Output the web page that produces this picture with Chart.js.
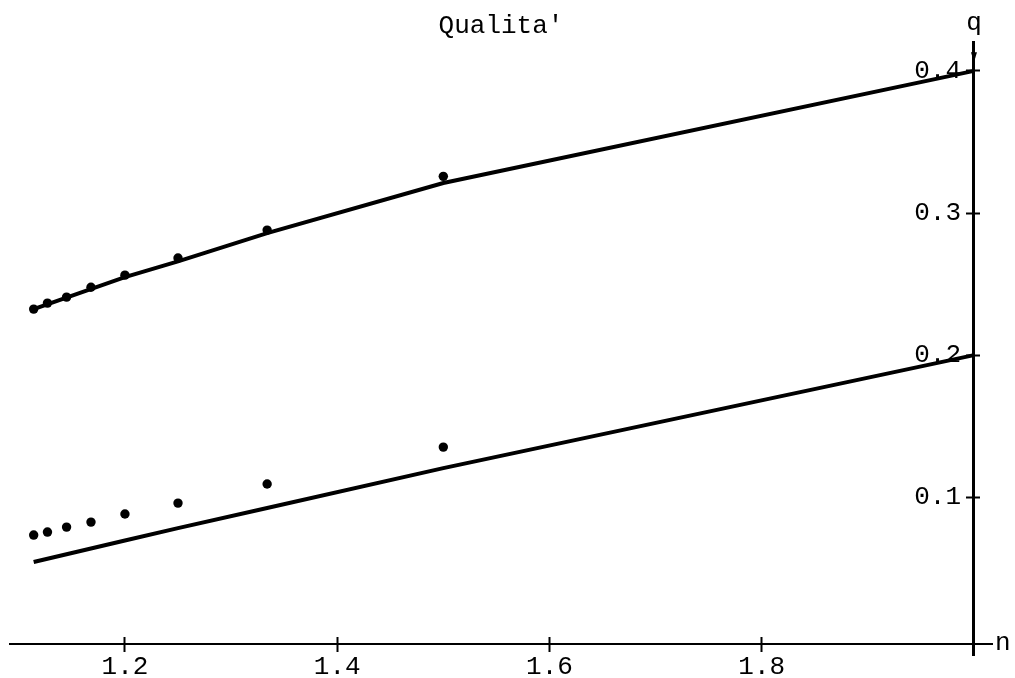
<!DOCTYPE html>
<html>
<head>
<meta charset="utf-8">
<script src="https://cdn.jsdelivr.net/npm/chart.js@4"></script>
<style>
  html, body { margin: 0; padding: 0; background: #fff; }
  #wrap { width: 1015px; height: 678px; }
</style>
</head>
<body>
<div id="wrap"><canvas id="qualChart"></canvas></div>
<script>
// values
var nPoints = [1.114, 1.127, 1.145, 1.168, 1.2, 1.25, 1.334, 1.5];
var qUpperPoints = [0.2324, 0.2366, 0.2408, 0.2478, 0.2563, 0.2683, 0.2880, 0.3258];
var qLowerPoints = [0.0734, 0.0755, 0.0790, 0.0825, 0.0882, 0.0959, 0.1093, 0.1353];

var nLine = [1.114, 1.2, 1.25, 1.334, 1.5, 2.0];
var qUpperLine = [0.2324, 0.2549, 0.2660, 0.2859, 0.3211, 0.4];
var qLowerLine = [0.0544, 0.0696, 0.0783, 0.0924, 0.1205, 0.2];

var xTicks = [1.2, 1.4, 1.6, 1.8];
var yTicks = [0.1, 0.2, 0.3, 0.4];

function pairs(xs, ys) {
    return xs.map(function(x, i) { return { x: x, y: ys[i] }; });
}

document.addEventListener('DOMContentLoaded', function() {
    var mono = 'Liberation Mono';
    var nMin = 1.0917, nMax = 2.017;
    var qMin = -0.011, qMax = 0.4202;
    var nAxisAt = -0.0035;   // the n axis sits just under q = 0 in the original

    function fixedTicks(list) {
        return function(scale) {
            scale.ticks = list.map(function(v) { return { value: v }; });
        };
    }

    var axisExtras = {
        id: 'axisExtras',
        afterDraw: function(chart) {
            var ctx = chart.ctx;
            var area = chart.chartArea;
            var ax = chart.scales.x.getPixelForValue(2.0);
            var ay = chart.scales.y.getPixelForValue(nAxisAt);
            ctx.save();
            ctx.fillStyle = '#000';
            ctx.font = '26px "' + mono + '"';
            ctx.textAlign = 'center';
            ctx.textBaseline = 'alphabetic';
            ctx.fillText('q', ax, area.top - 12);
            ctx.textAlign = 'left';
            ctx.fillText('n', area.right + 3, ay + 6);
            // little arrow on the q axis
            ctx.beginPath();
            ctx.moveTo(ax - 3, area.top + 10);
            ctx.lineTo(ax + 3, area.top + 10);
            ctx.lineTo(ax, area.top + 20);
            ctx.closePath();
            ctx.fill();
            ctx.restore();
        }
    };

    var ctx = document.getElementById('qualChart').getContext('2d');
    var qualChart = new Chart(ctx, {
        type: 'scatter',
        data: {
            datasets: [{
                label: 'upper line',
                data: pairs(nLine, qUpperLine),
                showLine: true,
                borderColor: '#000',
                borderWidth: 4,
                pointRadius: 0,
                tension: 0
            }, {
                label: 'lower line',
                data: pairs(nLine, qLowerLine),
                showLine: true,
                borderColor: '#000',
                borderWidth: 4,
                pointRadius: 0,
                tension: 0
            }, {
                label: 'upper points',
                data: pairs(nPoints, qUpperPoints),
                showLine: false,
                pointRadius: 4.7,
                pointBackgroundColor: '#000',
                pointBorderWidth: 0
            }, {
                label: 'lower points',
                data: pairs(nPoints, qLowerPoints),
                showLine: false,
                pointRadius: 4.7,
                pointBackgroundColor: '#000',
                pointBorderWidth: 0
            }]
        },
        options: {
            responsive: true,
            maintainAspectRatio: false,
            animation: false,
            layout: {
                padding: { left: 10, right: 23, top: 0, bottom: 23 }
            },
            scales: {
                x: {
                    type: 'linear',
                    min: nMin,
                    max: nMax,
                    position: { y: nAxisAt },
                    afterBuildTicks: fixedTicks(xTicks),
                    border: { display: true, color: '#000', width: 2 },
                    grid: { drawOnChartArea: false, tickLength: 7, tickWidth: 2, tickColor: '#000' },
                    ticks: {
                        color: '#000',
                        padding: 0,
                        maxRotation: 0,
                        font: { family: mono, size: 26 },
                        callback: function(v) { return v.toFixed(1); }
                    }
                },
                x2: {
                    type: 'linear',
                    axis: 'x',
                    min: nMin,
                    max: nMax,
                    position: { y: nAxisAt },
                    afterBuildTicks: fixedTicks(xTicks),
                    border: { display: false },
                    grid: { drawOnChartArea: false, tickLength: -7, tickWidth: 2, tickColor: '#000' },
                    ticks: { display: false }
                },
                y: {
                    type: 'linear',
                    min: qMin,
                    max: qMax,
                    position: { x: 2.0 },
                    afterBuildTicks: fixedTicks(yTicks),
                    border: { display: true, color: '#000', width: 3 },
                    grid: { drawOnChartArea: false, tickLength: 6, tickWidth: 2, tickColor: '#000' },
                    ticks: { display: false }
                },
                y2: {
                    type: 'linear',
                    axis: 'y',
                    min: qMin,
                    max: qMax,
                    position: { x: 2.0 },
                    afterBuildTicks: fixedTicks(yTicks),
                    border: { display: false },
                    grid: { drawOnChartArea: false, tickLength: -6, tickWidth: 2, tickColor: '#000' },
                    ticks: { display: false }
                },
                // labels only, set a little to the left of the q axis
                yLabels: {
                    type: 'linear',
                    axis: 'y',
                    min: qMin,
                    max: qMax,
                    position: { x: 1.9878 },
                    afterBuildTicks: fixedTicks(yTicks),
                    border: { display: false },
                    grid: { display: false },
                    ticks: {
                        color: '#000',
                        font: { family: mono, size: 26 },
                        callback: function(v) { return v.toFixed(1); }
                    }
                }
            },
            plugins: {
                legend: { display: false },
                tooltip: { enabled: false },
                title: {
                    display: true,
                    text: "Qualita'",
                    color: '#000',
                    font: { family: mono, size: 26, weight: 'normal', lineHeight: 1.2 },
                    padding: { top: 11, bottom: 0 }
                }
            }
        },
        plugins: [axisExtras]
    });
});
</script>
</body>
</html>
